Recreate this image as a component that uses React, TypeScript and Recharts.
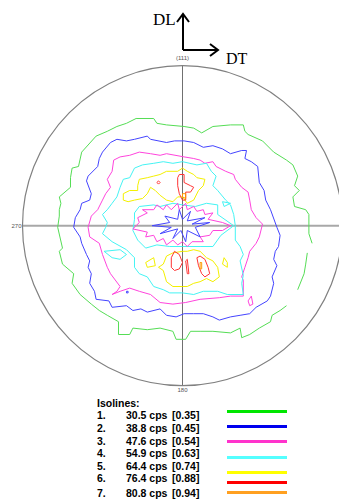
import React from "react";
import { ScatterChart, Scatter, XAxis, YAxis, ReferenceDot, ReferenceLine } from "recharts";

// pole figure coordinates, unit = radius of the projection circle
const green1 = [
  [0.81, -0.11], [0.79, -0.05], [0.79, 0.01], [0.79, 0.07], [0.77, 0.1], [0.7, 0.12], [0.69, 0.18],
  [0.73, 0.22], [0.7, 0.25], [0.72, 0.31], [0.69, 0.38], [0.65, 0.41], [0.57, 0.46], [0.5, 0.53],
  [0.41, 0.57], [0.39, 0.59], [0.38, 0.63], [0.3, 0.63], [0.19, 0.62], [0.12, 0.58], [0.07, 0.61],
  [0.01, 0.62], [-0.1, 0.63], [-0.16, 0.64], [-0.18, 0.67], [-0.29, 0.67], [-0.35, 0.64], [-0.41, 0.62],
  [-0.47, 0.59], [-0.54, 0.56], [-0.63, 0.46], [-0.65, 0.37], [-0.69, 0.36], [-0.7, 0.3], [-0.7, 0.24],
  [-0.77, 0.18], [-0.76, 0.14], [-0.77, 0.1], [-0.77, 0.06], [-0.78, -0.01], [-0.75, -0.14], [-0.77, -0.16],
  [-0.75, -0.24], [-0.68, -0.3], [-0.69, -0.36], [-0.64, -0.43], [-0.57, -0.49], [-0.52, -0.53],
  [-0.47, -0.56], [-0.4, -0.6], [-0.4, -0.68], [-0.33, -0.68], [-0.31, -0.64], [-0.22, -0.65],
  [-0.14, -0.64], [-0.06, -0.66], [-0.04, -0.71], [0.02, -0.71], [0.05, -0.66], [0.11, -0.66],
  [0.19, -0.66], [0.3, -0.67], [0.36, -0.64], [0.37, -0.7], [0.42, -0.68], [0.48, -0.64], [0.55, -0.6],
  [0.56, -0.56], [0.61, -0.53], [0.65, -0.5],
];
const green2 = [[0.72, -0.4], [0.76, -0.3], [0.77, -0.24], [0.78, -0.17]];

const blue1 = [
  [0.01, 0.53], [-0.05, 0.53], [-0.1, 0.52], [-0.2, 0.54], [-0.22, 0.56], [-0.3, 0.54], [-0.35, 0.53],
  [-0.41, 0.54], [-0.45, 0.52], [-0.5, 0.46], [-0.52, 0.42], [-0.53, 0.37], [-0.59, 0.31], [-0.6, 0.28],
  [-0.57, 0.2], [-0.58, 0.16], [-0.63, 0.14], [-0.64, 0.1], [-0.67, 0.05], [-0.68, -0.01], [-0.64, -0.07],
  [-0.63, -0.11], [-0.6, -0.18], [-0.58, -0.22], [-0.59, -0.26], [-0.57, -0.3], [-0.58, -0.36],
  [-0.55, -0.41], [-0.54, -0.46], [-0.46, -0.47], [-0.44, -0.51], [-0.35, -0.5], [-0.31, -0.53],
  [-0.26, -0.52], [-0.22, -0.54], [-0.14, -0.52], [-0.1, -0.56], [-0.04, -0.57], [0.01, -0.55],
  [0.07, -0.55], [0.13, -0.55], [0.19, -0.57], [0.23, -0.59], [0.3, -0.57], [0.36, -0.56], [0.42, -0.55],
  [0.46, -0.51], [0.53, -0.47], [0.55, -0.44], [0.57, -0.36], [0.56, -0.32], [0.59, -0.25], [0.57, -0.21],
  [0.58, -0.16], [0.6, -0.13], [0.61, -0.06], [0.59, -0.01], [0.55, 0.1], [0.52, 0.16], [0.51, 0.22],
  [0.48, 0.27], [0.47, 0.37], [0.43, 0.4], [0.39, 0.42], [0.4, 0.47], [0.37, 0.47], [0.3, 0.45],
  [0.25, 0.48], [0.19, 0.5], [0.13, 0.49], [0.07, 0.52],
];
const blueStar = [
  [-0.19, 0.0], [-0.08, 0.02], [-0.11, 0.06], [-0.03, 0.04], [-0.02, 0.1], [0.0, 0.04], [0.05, 0.09],
  [0.03, 0.03], [0.14, 0.05], [0.06, 0.01], [0.17, 0.02], [0.08, -0.01], [0.11, -0.07], [0.03, -0.03],
  [0.02, -0.1], [-0.01, -0.03], [-0.06, -0.08], [-0.03, -0.02], [-0.14, -0.05], [-0.07, -0.01],
];
const blueDot = [[-0.35, -0.41], [-0.34, -0.41], [-0.34, -0.42], [-0.35, -0.42]];

const magenta1 = [
  [0.01, 0.43], [-0.1, 0.45], [-0.14, 0.44], [-0.2, 0.45], [-0.27, 0.46], [-0.33, 0.44], [-0.39, 0.43],
  [-0.43, 0.41], [-0.44, 0.34], [-0.47, 0.29], [-0.45, 0.24], [-0.48, 0.2], [-0.5, 0.16], [-0.53, 0.1],
  [-0.57, 0.06], [-0.59, -0.01], [-0.58, -0.07], [-0.52, -0.11], [-0.5, -0.18], [-0.47, -0.26],
  [-0.45, -0.3], [-0.39, -0.38], [-0.41, -0.41], [-0.44, -0.43], [-0.39, -0.41], [-0.33, -0.39],
  [-0.27, -0.41], [-0.2, -0.43], [-0.14, -0.48], [-0.06, -0.49], [0.02, -0.48], [0.11, -0.46],
  [0.23, -0.45], [0.3, -0.44], [0.38, -0.44], [0.38, -0.34], [0.37, -0.32], [0.39, -0.26], [0.41, -0.2],
  [0.42, -0.16], [0.46, -0.11], [0.48, -0.07], [0.5, 0.01], [0.46, 0.05], [0.43, 0.1], [0.42, 0.16],
  [0.41, 0.21], [0.37, 0.24], [0.33, 0.29], [0.32, 0.32], [0.27, 0.34], [0.21, 0.37], [0.19, 0.4],
  [0.14, 0.39], [0.11, 0.41], [0.07, 0.42],
];
const magentaStar = [
  [-0.31, -0.02], [-0.27, 0.02], [-0.28, 0.05], [-0.22, 0.08], [-0.25, 0.1], [-0.18, 0.1], [-0.16, 0.13],
  [-0.12, 0.1], [-0.1, 0.13], [-0.07, 0.1], [-0.03, 0.14], [-0.02, 0.1], [0.02, 0.14], [0.03, 0.1],
  [0.07, 0.12], [0.09, 0.09], [0.13, 0.1], [0.14, 0.07], [0.19, 0.08], [0.16, 0.04], [0.25, 0.02],
  [0.3, 0.0], [0.25, -0.03], [0.19, -0.03], [0.17, -0.06], [0.11, -0.07], [0.13, -0.1], [0.06, -0.1],
  [0.03, -0.13], [0.0, -0.1], [-0.03, -0.12], [-0.06, -0.09], [-0.1, -0.12], [-0.12, -0.08],
  [-0.16, -0.1], [-0.18, -0.06], [-0.23, -0.07], [-0.22, -0.04],
];
const magentaIsle = [[0.41, -0.47], [0.43, -0.44], [0.44, -0.49], [0.42, -0.5]];

const cyan1 = [
  [0.0, 0.4], [0.09, 0.38], [0.15, 0.39], [0.18, 0.34], [0.21, 0.31], [0.19, 0.25], [0.22, 0.22],
  [0.27, 0.16], [0.3, 0.13], [0.32, 0.07], [0.33, 0.0], [0.33, -0.09], [0.36, -0.13], [0.38, -0.18],
  [0.36, -0.22], [0.38, -0.31], [0.37, -0.36], [0.38, -0.43], [0.28, -0.43], [0.22, -0.41], [0.13, -0.41],
  [0.07, -0.43], [0.0, -0.42], [-0.08, -0.42], [-0.12, -0.4], [-0.18, -0.38], [-0.22, -0.32],
  [-0.27, -0.3], [-0.3, -0.26], [-0.3, -0.2], [-0.35, -0.15], [-0.44, -0.1], [-0.5, -0.05], [-0.48, -0.01],
  [-0.47, 0.02], [-0.5, 0.07], [-0.47, 0.1], [-0.44, 0.14], [-0.41, 0.18], [-0.39, 0.24], [-0.37, 0.29],
  [-0.33, 0.3], [-0.3, 0.36], [-0.25, 0.38], [-0.18, 0.39], [-0.12, 0.4], [-0.06, 0.39],
];
const cyanInner = [
  [-0.3, 0.08], [-0.27, 0.12], [-0.18, 0.13], [-0.14, 0.12], [-0.06, 0.14], [0.0, 0.13], [0.08, 0.12],
  [0.15, 0.14], [0.22, 0.13], [0.22, 0.07], [0.32, 0.0], [0.24, -0.06], [0.19, -0.13], [0.11, -0.13],
  [0.0, -0.13], [-0.08, -0.13], [-0.16, -0.12], [-0.23, -0.14], [-0.28, -0.09], [-0.31, -0.03], [-0.3, 0.04],
];
const cyanIsle1 = [[-0.49, -0.16], [-0.39, -0.15], [-0.35, -0.18], [-0.39, -0.21], [-0.44, -0.2]];
const cyanIsle2 = [[0.25, 0.15], [0.3, 0.14], [0.26, 0.12]];

const yellowTop = [
  [0.0, 0.36], [0.03, 0.34], [0.07, 0.32], [0.09, 0.3], [0.14, 0.29], [0.13, 0.25], [0.1, 0.22],
  [0.07, 0.16], [0.03, 0.14], [0.0, 0.18], [-0.03, 0.18], [-0.06, 0.15], [-0.1, 0.16], [-0.14, 0.19],
  [-0.17, 0.22], [-0.2, 0.24], [-0.22, 0.2], [-0.25, 0.17], [-0.3, 0.16], [-0.34, 0.15], [-0.37, 0.16],
  [-0.37, 0.2], [-0.33, 0.22], [-0.28, 0.22], [-0.28, 0.25], [-0.27, 0.29], [-0.22, 0.3], [-0.18, 0.31],
  [-0.14, 0.32], [-0.1, 0.34], [-0.03, 0.34],
];
const yellowBottom = [
  [0.0, -0.16], [0.03, -0.16], [0.07, -0.15], [0.11, -0.16], [0.15, -0.2], [0.19, -0.22], [0.22, -0.26],
  [0.23, -0.32], [0.19, -0.35], [0.15, -0.33], [0.11, -0.35], [0.07, -0.36], [0.03, -0.38], [0.0, -0.38],
  [-0.06, -0.38], [-0.1, -0.35], [-0.12, -0.28], [-0.15, -0.26], [-0.12, -0.24], [-0.1, -0.19], [-0.06, -0.17],
];
const yellowIsle1 = [[-0.23, -0.23], [-0.18, -0.2], [-0.17, -0.25], [-0.22, -0.26]];
const yellowIsle2 = [[0.26, -0.2], [0.28, -0.23], [0.28, -0.26], [0.25, -0.24]];

const redTop = [
  [-0.03, 0.25], [-0.03, 0.3], [-0.02, 0.32], [0.01, 0.32], [0.01, 0.27], [0.05, 0.25], [0.07, 0.24],
  [0.05, 0.21], [0.02, 0.21], [0.02, 0.16], [0.0, 0.16], [-0.02, 0.2],
];
const redDot = [[-0.16, 0.27], [-0.15, 0.28], [-0.14, 0.27], [-0.15, 0.26]];
const redBottomL = [[-0.07, -0.2], [-0.05, -0.16], [-0.02, -0.18], [0.0, -0.23], [-0.02, -0.27], [-0.05, -0.28], [-0.07, -0.26]];
const redBottomM = [[0.02, -0.22], [0.03, -0.21], [0.04, -0.3], [0.03, -0.3]];
const redBottomR = [[0.09, -0.2], [0.11, -0.19], [0.14, -0.21], [0.16, -0.26], [0.17, -0.3], [0.14, -0.32], [0.12, -0.3], [0.1, -0.25]];
const orangeTop = [[0.0, 0.2], [0.02, 0.2], [0.02, 0.17], [0.0, 0.18]];
const orangeBottom = [[0.11, -0.23], [0.12, -0.23], [0.12, -0.27], [0.11, -0.27]];

// isolines legend
const isoNumbers = ["1.", "2.", "3.", "4.", "5.", "6.", "7."];
const isoCps = [30.5, 38.8, 47.6, 54.9, 64.4, 76.4, 80.8];
const isoRatio = [0.35, 0.45, 0.54, 0.63, 0.74, 0.88, 0.94];
const isoColors = ["#00e600", "#0000ee", "#ff33cc", "#55ffff", "#ffff00", "#ff0000", "#ffa020"];

const lineColor = {
  green: "#55dd55",
  blue: "#4444ff",
  magenta: "#ff44dd",
  cyan: "#44f4f4",
  yellow: "#f4f000",
  red: "#ff3333",
  orange: "#ff9900",
};

const contours: { pts: number[][]; color: string; closed: boolean }[] = [
  { pts: green1, color: lineColor.green, closed: false },
  { pts: green2, color: lineColor.green, closed: false },
  { pts: blue1, color: lineColor.blue, closed: true },
  { pts: magenta1, color: lineColor.magenta, closed: true },
  { pts: magentaIsle, color: lineColor.magenta, closed: true },
  { pts: cyan1, color: lineColor.cyan, closed: true },
  { pts: cyanInner, color: lineColor.cyan, closed: true },
  { pts: cyanIsle1, color: lineColor.cyan, closed: true },
  { pts: cyanIsle2, color: lineColor.cyan, closed: true },
  { pts: magentaStar, color: lineColor.magenta, closed: true },
  { pts: blueStar, color: lineColor.blue, closed: true },
  { pts: blueDot, color: lineColor.blue, closed: true },
  { pts: yellowTop, color: lineColor.yellow, closed: true },
  { pts: yellowBottom, color: lineColor.yellow, closed: true },
  { pts: yellowIsle1, color: lineColor.yellow, closed: true },
  { pts: yellowIsle2, color: lineColor.yellow, closed: true },
  { pts: redTop, color: lineColor.red, closed: true },
  { pts: redDot, color: lineColor.red, closed: true },
  { pts: redBottomL, color: lineColor.red, closed: true },
  { pts: redBottomM, color: lineColor.red, closed: true },
  { pts: redBottomR, color: lineColor.red, closed: true },
  { pts: orangeTop, color: lineColor.orange, closed: true },
  { pts: orangeBottom, color: lineColor.orange, closed: true },
];

const toData = (pts: number[][], closed: boolean) => {
  const d = pts.map(([x, y]) => ({ x, y }));
  return closed ? [...d, d[0]] : d;
};

const NoDot = () => <g />;

const tiny = { fontSize: 6, fill: "#555", fontFamily: "Arial, 'Liberation Sans', sans-serif" };
const legendFont = "Arial, 'Liberation Sans', sans-serif";
const textRows = [409, 422, 435, 447, 460, 472, 487];
const lineRows = [411, 426, 441, 457, 472, 482, 492];

const cell = (left: number, top: number): React.CSSProperties => ({
  position: "absolute",
  left,
  top,
  fontFamily: legendFont,
  fontWeight: "bold",
  fontSize: 10.5,
  whiteSpace: "nowrap",
});

export default function App() {
  return (
    <div style={{ position: "relative", width: 339, height: 499, background: "#fff" }}>
      <style>{"body{margin:0}"}</style>
      <ScatterChart width={339} height={499} margin={{ top: 0, right: 0, bottom: 0, left: 0 }}>
        <XAxis type="number" dataKey="x" domain={[-1.1406, 0.9781]} hide allowDataOverflow />
        <YAxis type="number" dataKey="y" domain={[-1.7081, 1.4106]} hide allowDataOverflow />
        <ReferenceDot x={0} y={0} r={160} fill="none" stroke="#808080" strokeWidth={1.2} ifOverflow="visible" />
        <ReferenceLine segment={[{ x: -1, y: 0 }, { x: 1, y: 0 }]} stroke="#a8a8a8" strokeWidth={2} ifOverflow="visible" />
        <ReferenceLine segment={[{ x: 0, y: -1 }, { x: 0, y: 1 }]} stroke="#707070" strokeWidth={1} ifOverflow="visible" />
        <ReferenceDot x={0} y={1} r={0} stroke="none" label={{ value: "(111)", position: "top", offset: 6, ...tiny }} />
        <ReferenceDot x={0} y={-1} r={0} stroke="none" label={{ value: "180", position: "bottom", offset: 2, ...tiny }} />
        <ReferenceDot x={-1} y={0} r={0} stroke="none" label={{ value: "270", position: "left", offset: 1, ...tiny }} />
        {contours.map((c, i) => (
          <Scatter
            key={i}
            data={toData(c.pts, c.closed)}
            line={{ stroke: c.color, strokeWidth: 1 }}
            lineType="joint"
            shape={NoDot}
            legendType="none"
            isAnimationActive={false}
          />
        ))}
      </ScatterChart>

      <svg width={339} height={80} style={{ position: "absolute", left: 0, top: 0 }}>
        <g stroke="#000" strokeWidth={2} fill="none">
          <path d="M183 50 V14 M177 22 L183 14 L189 22" />
          <path d="M183 50 H218 M210 44 L218 50 L210 56" />
        </g>
        <text x={153} y={25} fontSize={17} fontFamily="'Liberation Serif', 'Times New Roman', serif">DL</text>
        <text x={226} y={64} fontSize={16} fontFamily="'Liberation Serif', 'Times New Roman', serif">DT</text>
      </svg>

      <div style={cell(97, 397)}>Isolines:</div>
      {isoCps.map((v, i) => (
        <React.Fragment key={i}>
          <div style={cell(97, textRows[i])}>{isoNumbers[i]}</div>
          <div style={cell(126, textRows[i])}>{v.toFixed(1)} cps</div>
          <div style={cell(172, textRows[i])}>[{isoRatio[i].toFixed(2)}]</div>
          <div style={{ position: "absolute", left: 227, top: lineRows[i] - 1.5, width: 60, height: 3, background: isoColors[i] }} />
        </React.Fragment>
      ))}
    </div>
  );
}
